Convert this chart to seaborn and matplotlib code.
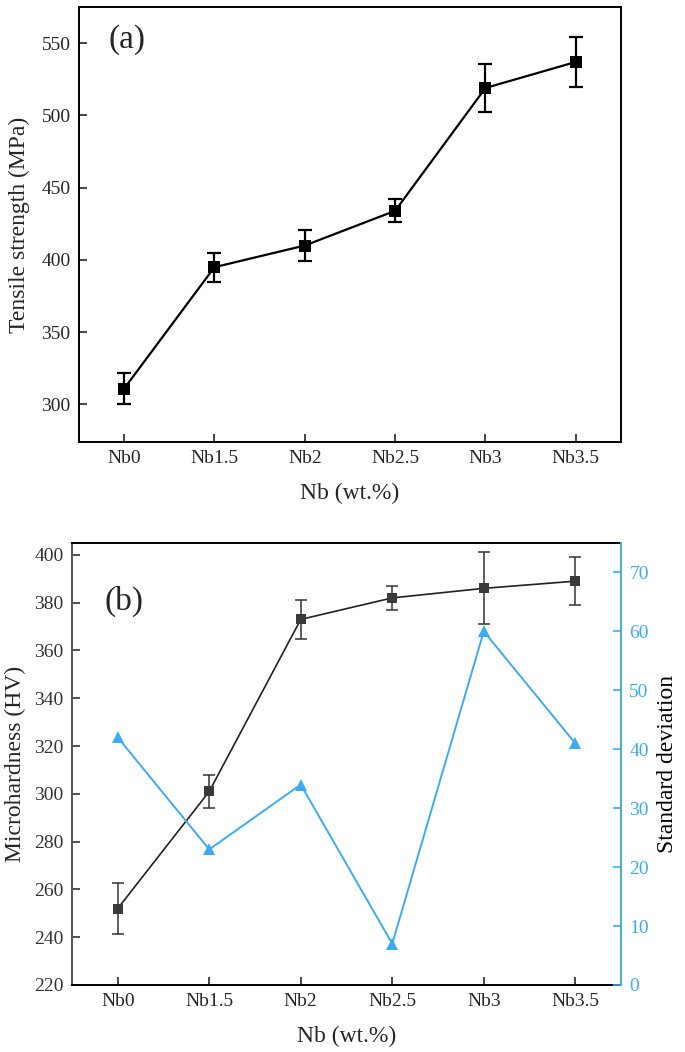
import numpy as np
import pandas as pd
import matplotlib
matplotlib.use("Agg")
import matplotlib.pyplot as plt
import seaborn as sns

sns.set_theme(style="ticks")
plt.rcParams["font.family"] = ["Liberation Serif", "DejaVu Serif"]
plt.rcParams["mathtext.fontset"] = "stix"

# ---------------------------------------------------------------------------
# data
# ---------------------------------------------------------------------------
samples = ["Nb0", "Nb1.5", "Nb2", "Nb2.5", "Nb3", "Nb3.5"]

tensile = [311, 395, 410, 434, 519, 537]
tensile_err = [11, 10, 10.5, 8, 16.5, 17]

hardness = [252, 301, 373, 382, 386, 389]
hardness_err = [10.5, 7, 8, 5, 15, 10]

std_dev = [42, 23, 34, 7, 60, 41]

BLUE = "#3fabef"
TICK = 14
LABEL = 17

df = pd.DataFrame({
    "pos": np.arange(len(samples)),
    "sample": samples,
    "tensile": tensile,
    "tensile_err": tensile_err,
    "hardness": hardness,
    "hardness_err": hardness_err,
    "std": std_dev,
})

fig = plt.figure(figsize=(6.85, 10.52), dpi=100)
ax_a = fig.add_axes([0.1153, 0.5798, 0.7912, 0.4135])
ax_b = fig.add_axes([0.1051, 0.0637, 0.8015, 0.4202])


def style_ax(ax):
    ax.set_xlim(-0.5, 5.5)
    ax.set_xticks(df["pos"])
    ax.set_xticklabels(samples)
    ax.tick_params(direction="in", length=6, width=1.2, labelsize=TICK,
                   pad=6)
    ax.set_xlabel("Nb (wt.%)", fontsize=LABEL, labelpad=11)
    for s in ax.spines.values():
        s.set_linewidth(1.4)
        s.set_color("black")


# =============================================================================
# (a) tensile strength
# =============================================================================
ax_a.errorbar(df["pos"], df["tensile"], yerr=df["tensile_err"], fmt="none",
              ecolor="black", elinewidth=1.6, capsize=5, capthick=1.6, zorder=2)
sns.lineplot(data=df, x="pos", y="tensile", ax=ax_a, color="black",
             linewidth=1.6, marker="s", markersize=8, markeredgewidth=0,
             zorder=3)
style_ax(ax_a)
ax_a.set_ylim(274, 575)
ax_a.set_yticks([300, 350, 400, 450, 500, 550])
ax_a.set_ylabel("Tensile strength (MPa)", fontsize=LABEL, labelpad=8)
ax_a.text(0.055, 0.925, "(a)", transform=ax_a.transAxes, fontsize=24,
          va="center", ha="left")

# =============================================================================
# (b) microhardness + standard deviation
# =============================================================================
ax_b.errorbar(df["pos"], df["hardness"], yerr=df["hardness_err"], fmt="none",
              ecolor="#333333", elinewidth=1.1, capsize=4, capthick=1.1,
              zorder=2)
sns.lineplot(data=df, x="pos", y="hardness", ax=ax_b, color="#222222",
             linewidth=1.2, marker="s", markersize=7, markeredgewidth=0,
             markerfacecolor="#3a3a3a", zorder=3)
style_ax(ax_b)
ax_b.set_ylim(220, 405)
ax_b.set_yticks(np.arange(220, 401, 20))
ax_b.tick_params(axis="y", colors="#333333")
ax_b.set_ylabel("Microhardness (HV)", fontsize=LABEL, labelpad=6)
ax_b.spines["left"].set_color("#555555")
ax_b.spines["right"].set_visible(False)
ax_b.text(0.06, 0.868, "(b)", transform=ax_b.transAxes, fontsize=24,
          va="center", ha="left")

ax_r = ax_b.twinx()
sns.lineplot(data=df, x="pos", y="std", ax=ax_r, color=BLUE, linewidth=1.4,
             marker="^", markersize=9, markeredgewidth=0, zorder=3)
ax_r.set_ylim(0, 75)
ax_r.set_yticks(np.arange(0, 71, 10))
ax_r.tick_params(axis="y", direction="in", length=6, width=1.2,
                 colors=BLUE, labelsize=TICK, pad=6)
ax_r.set_ylabel("Standard deviation", fontsize=LABEL, color="black",
                labelpad=6)
for side in ["left", "top", "bottom"]:
    ax_r.spines[side].set_visible(False)
ax_r.spines["right"].set_color(BLUE)
ax_r.spines["right"].set_linewidth(1.4)
ax_r.set_xlim(-0.5, 5.5)

fig.savefig("out.png", dpi=100)
